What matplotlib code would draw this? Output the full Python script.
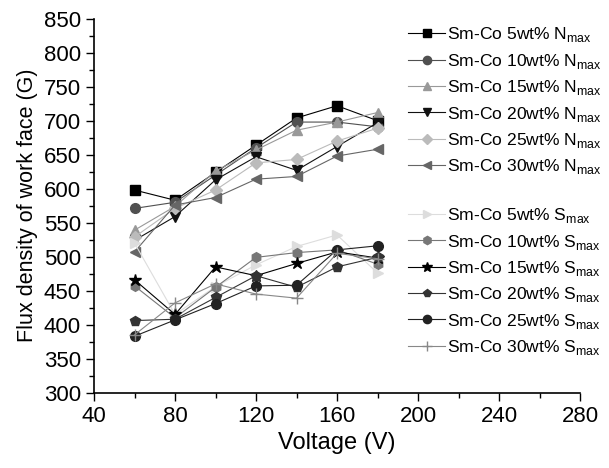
import matplotlib.pyplot as plt
from matplotlib.lines import Line2D
from matplotlib.ticker import MultipleLocator

plt.rcParams['font.family'] = ['Liberation Sans', 'DejaVu Sans']
plt.rcParams['mathtext.fontset'] = 'custom'
plt.rcParams['mathtext.rm'] = 'Liberation Sans'

voltage = [60, 80, 100, 120, 140, 160, 180]

# N_max series
n5 = [598, 583, 624, 664, 704, 722, 700]
n10 = [571, 580, 620, 660, 698, 698, 691]
n15 = [539, 574, 626, 657, 686, 698, 712]
n20 = [524, 559, 613, 647, 627, 662, 697]
n25 = [529, 571, 598, 638, 643, 670, 689]
n30 = [507, 576, 587, 614, 618, 648, 658]

# S_max series
s5 = [520, 415, 456, 488, 515, 532, 476]
s10 = [457, 410, 455, 499, 506, 510, 489]
s15 = [466, 415, 485, 472, 490, 507, 498]
s20 = [406, 408, 440, 472, 455, 485, 499]
s25 = [383, 407, 431, 457, 458, 510, 516]
s30 = [385, 432, 460, 445, 439, 505, 497]

wt = ['5', '10', '15', '20', '25', '30']

fig = plt.figure(figsize=(6.09, 4.68), dpi=100)
ax = fig.add_axes([0.1544, 0.161, 0.798, 0.799])

n_styles = [('s', '#000000'), ('o', '#505050'), ('^', '#999999'),
            ('v', '#111111'), ('D', '#bbbbbb'), ('<', '#666666')]
s_styles = [('>', '#dddddd'), ('h', '#777777'), ('*', '#000000'),
            ('p', '#333333'), ('o', '#222222'), ('+', '#888888')]

handles = []
for w, y, (m, c) in zip(wt, [n5, n10, n15, n20, n25, n30], n_styles):
    ms = 6 if m == 'D' else 7
    h, = ax.plot(voltage, y, color=c, lw=0.8, marker=m, ms=ms,
                 mfc=c, mec=c, label='Sm-Co %swt%% N$_{\\rm max}$' % w)
    handles.append(h)

handles.append(Line2D([], [], color='none', label=' '))

for w, y, (m, c) in zip(wt, [s5, s10, s15, s20, s25, s30], s_styles):
    ms = 9 if m in ('*', '+') else 7
    h, = ax.plot(voltage, y, color=c, lw=0.8, marker=m, ms=ms,
                 mfc=c, mec=c, mew=1.0, label='Sm-Co %swt%% S$_{\\rm max}$' % w)
    handles.append(h)

ax.set_xlim(40, 280)
ax.set_ylim(300, 850)
ax.xaxis.set_major_locator(MultipleLocator(40))
ax.xaxis.set_minor_locator(MultipleLocator(20))
ax.yaxis.set_major_locator(MultipleLocator(50))
ax.yaxis.set_minor_locator(MultipleLocator(25))
ax.tick_params(which='major', length=6, width=1, labelsize=16)
ax.tick_params(which='minor', length=3.5, width=1)
ax.spines['top'].set_visible(False)
ax.spines['right'].set_visible(False)
ax.spines['left'].set_linewidth(1.2)
ax.spines['bottom'].set_linewidth(1.2)

ax.set_xlabel('Voltage (V)', fontsize=17)
ax.set_ylabel('Flux density of work face (G)', fontsize=15.5)

ax.legend(handles=handles, loc='upper left', bbox_to_anchor=(0.625, 1.01),
          frameon=False, fontsize=12.6, handlelength=2.1, handletextpad=0.1,
          labelspacing=0.42, borderaxespad=0.2, markerscale=0.85)

fig.savefig('out.png', dpi=100)
